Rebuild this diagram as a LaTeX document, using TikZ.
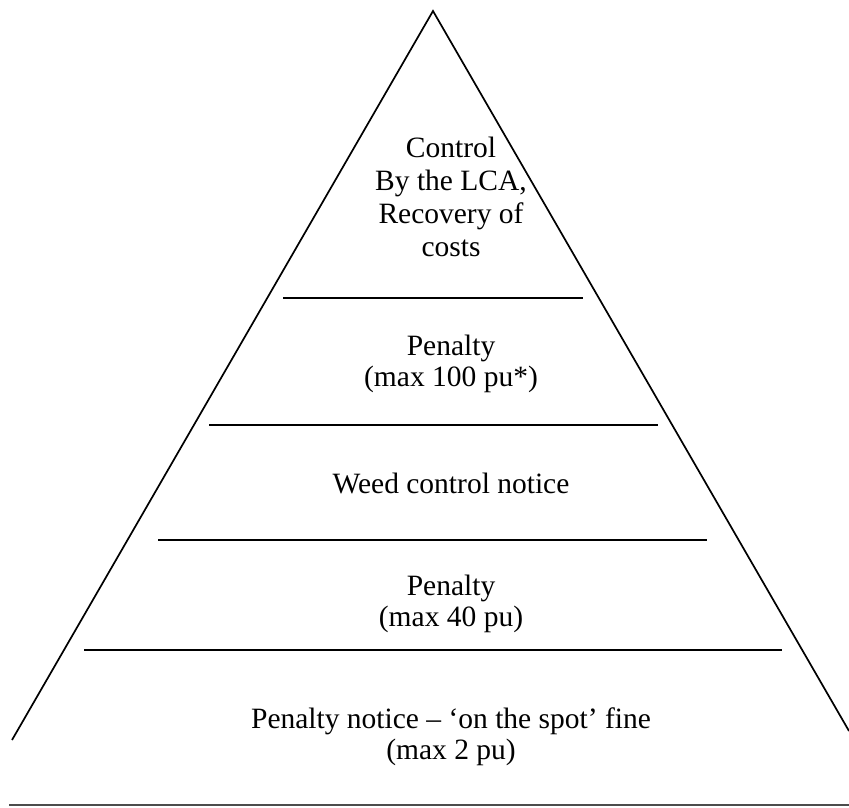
\documentclass[tikz,border=0pt]{standalone}
\usepackage{fontspec}
\setmainfont{Liberation Serif}
\begin{document}
\begin{tikzpicture}[x=1pt,y=-1pt,
  lbl/.style={font=\fontsize{29.5}{33}\selectfont, anchor=base, inner sep=0pt},
  tier/.style={line width=1.8pt},
  side/.style={line width=1.7pt, line join=miter}]
\useasboundingbox (0,0) rectangle (849,807);
% pyramid outline
\coordinate (apex) at (433,11);
\coordinate (bl) at (12,740);
\coordinate (br) at (849,731);
\draw[side] (bl) -- (apex) -- (br);
% tier separators
\draw[tier] (283,298) -- (583,298);
\draw[tier] (209,425) -- (658,425);
\draw[tier] (158,540) -- (707,540);
\draw[tier] (84,650) -- (782,650);
% base line
\draw[line width=1.4pt, black!70] (9,805) -- (849,805);
% texts
\node[lbl] (t1a) at (451,157) {Control};
\node[lbl] (t1b) at (451,190) {By the LCA,};
\node[lbl] (t1c) at (451,223) {Recovery of};
\node[lbl] (t1d) at (451,256) {costs};
\node[lbl] (t2a) at (451,355) {Penalty};
\node[lbl] (t2b) at (451,386) {(max 100 pu*)};
\node[lbl] (t3) at (451,493) {Weed control notice};
\node[lbl] (t4a) at (451,595) {Penalty};
\node[lbl] (t4b) at (451,626) {(max 40 pu)};
\node[lbl] (t5a) at (451,728) {Penalty notice – ‘on the spot’ fine};
\node[lbl] (t5b) at (451,759) {(max 2 pu)};
\end{tikzpicture}
\end{document}
